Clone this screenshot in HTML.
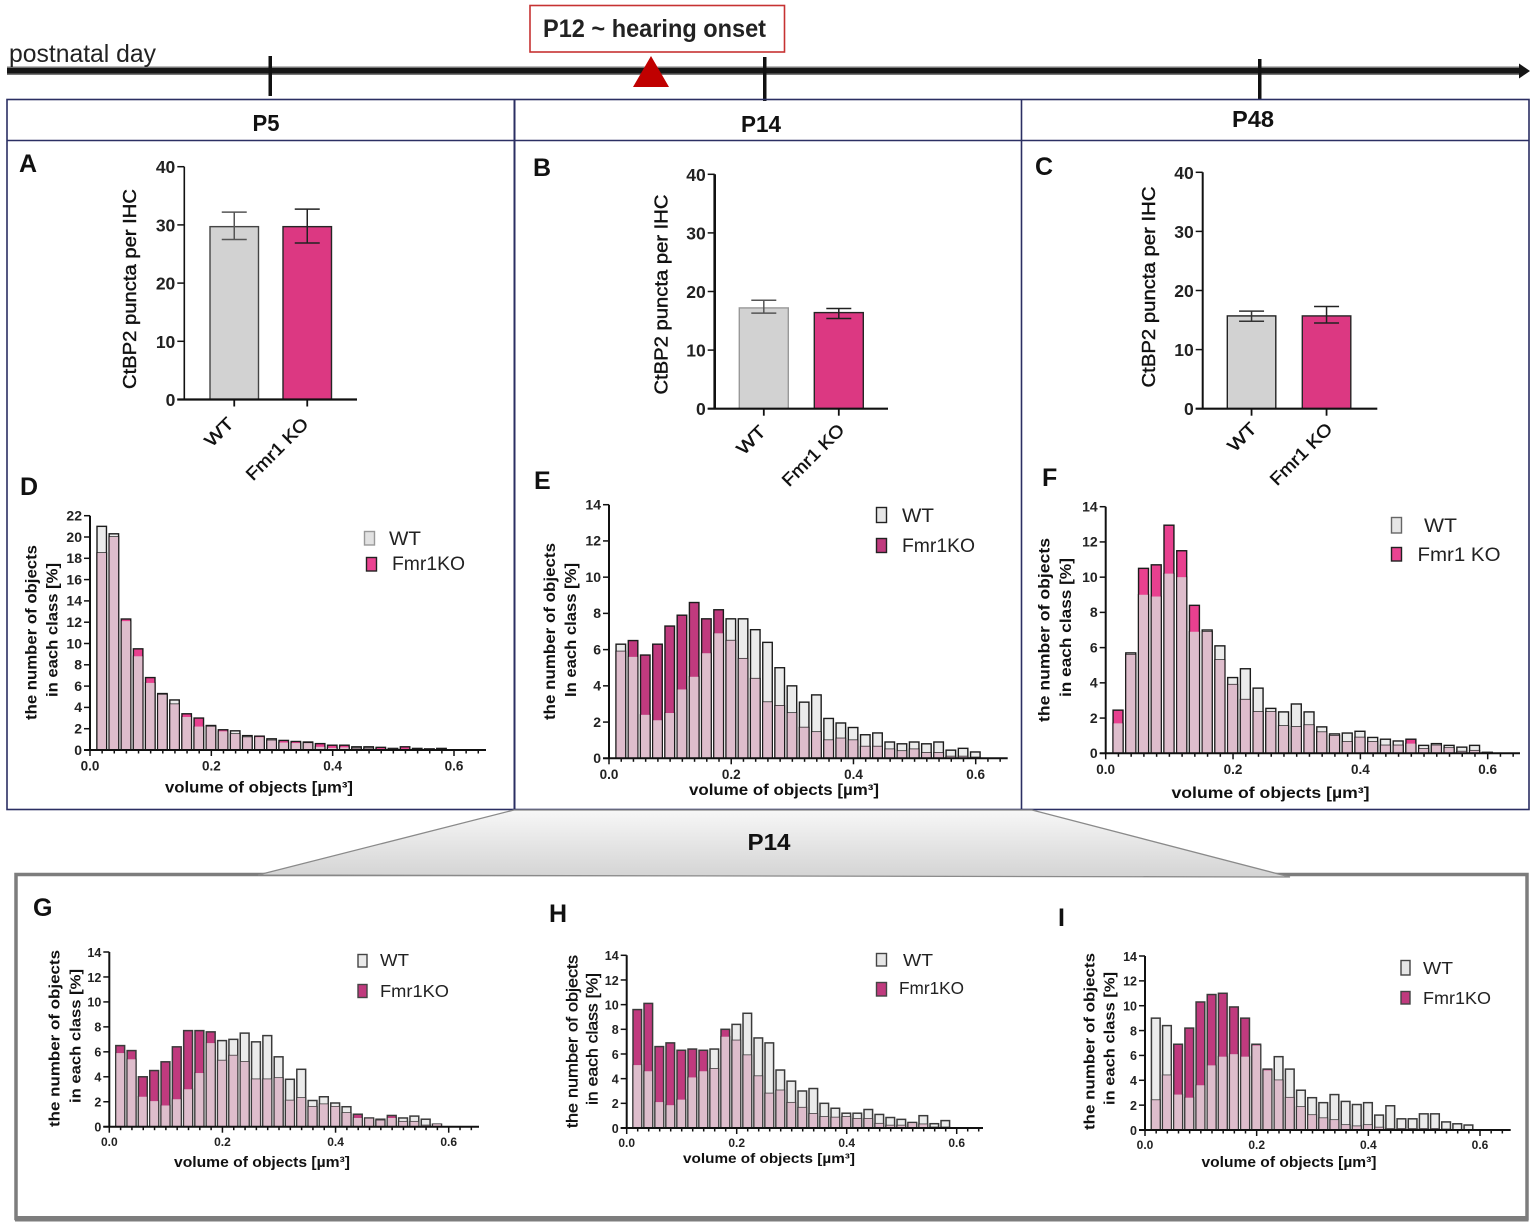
<!DOCTYPE html>
<html lang="en">
<head>
<meta charset="utf-8">
<title>CtBP2 puncta and object volume across postnatal days</title>
<style>
html,body{margin:0;padding:0;background:#fff;}
svg{display:block;font-family:"Liberation Sans",sans-serif;fill:#111;}
.hx{font-weight:700;}
.vt{dominant-baseline:central;text-anchor:middle;}
.let{font-size:25px;font-weight:700;}
.hd{font-size:23px;font-weight:700;text-anchor:middle;}
.lg{font-size:19px;fill:#222;}
.lgs{font-size:17.5px;fill:#222;}
.semi{stroke:#111;stroke-width:0.4px;}
</style>
</head>
<body>
<svg id="figure" width="1535" height="1228" viewBox="0 0 1535 1228" xmlns="http://www.w3.org/2000/svg" style="filter:blur(0.35px)">
<defs>
<linearGradient id="funnelFill" x1="0" y1="0" x2="0" y2="1">
<stop offset="0" stop-color="#f7f7f7"/><stop offset="1" stop-color="#d4d4d4"/>
</linearGradient>
</defs>
<rect width="1535" height="1228" fill="#fff"/>

<g>
<rect x="7" y="66.5" width="1516" height="8.5" fill="#777"/>
<rect x="7" y="68" width="1517" height="5.5" fill="#161616"/>
<polygon points="1519,63.5 1530,71 1519,78.5" fill="#161616"/>
<rect x="268.5" y="56" width="3.5" height="40" fill="#111"/>
<rect x="763" y="57" width="3.5" height="44" fill="#111"/>
<rect x="1258" y="59" width="3.5" height="40" fill="#111"/>
<polygon points="651,56 669,87 633,87" fill="#c00000"/>
<text x="9" y="62" font-size="25" textLength="147" lengthAdjust="spacingAndGlyphs" fill="#222">postnatal day</text>
<rect x="530" y="5.5" width="254.5" height="46.5" fill="#fff" stroke="#c63232" stroke-width="1.6"/>
<text x="543" y="37" font-size="25" font-weight="700" textLength="223" lengthAdjust="spacingAndGlyphs" fill="#222">P12 ~ hearing onset</text>
</g>

<g fill="none" stroke="#2b2f63" stroke-width="1.6">
<rect x="7" y="99.5" width="1522" height="710"/>
<line x1="514.5" y1="99.5" x2="514.5" y2="809.5" stroke-width="2"/>
<line x1="1021.5" y1="99.5" x2="1021.5" y2="809.5"/>
<line x1="7" y1="140.5" x2="1529" y2="140.5"/>
</g>
<text class="hd" x="266" y="131" textLength="27" lengthAdjust="spacingAndGlyphs">P5</text>
<text class="hd" x="761" y="132" textLength="40" lengthAdjust="spacingAndGlyphs">P14</text>
<text class="hd" x="1253" y="127" textLength="42" lengthAdjust="spacingAndGlyphs">P48</text>

<rect x="16" y="874.5" width="1511" height="344" fill="#fff" stroke="#7d7d7d" stroke-width="3.5"/>
<rect x="15" y="1216" width="1513.5" height="5.5" fill="#7d7d7d"/>
<polygon points="514,810 1032,810 1290,877 258,875" fill="url(#funnelFill)" stroke="#8a8a8a" stroke-width="1.3"/>
<text class="hd" x="769" y="850" textLength="43" lengthAdjust="spacingAndGlyphs">P14</text>

<text class="let" x="19" y="172">A</text>
<text class="let" x="533" y="176">B</text>
<text class="let" x="1035" y="175">C</text>
<text class="let" x="20" y="495">D</text>
<text class="let" x="534" y="489">E</text>
<text class="let" x="1042" y="486">F</text>
<text class="let" x="33" y="916">G</text>
<text class="let" x="549" y="922">H</text>
<text class="let" x="1058" y="926">I</text>

<!-- Bar charts -->
<g id="chartA">
<text class="vt semi" transform="translate(130,289) rotate(-90)" font-size="18" textLength="200" lengthAdjust="spacingAndGlyphs">CtBP2 puncta per IHC</text>
</g>
<g id="chartB">
<text class="vt semi" transform="translate(661.5,294.5) rotate(-90)" font-size="18" textLength="200" lengthAdjust="spacingAndGlyphs">CtBP2 puncta per IHC</text>
</g>
<g id="chartC">
<text class="vt semi" transform="translate(1149,287) rotate(-90)" font-size="18" textLength="201" lengthAdjust="spacingAndGlyphs">CtBP2 puncta per IHC</text>
</g>

<!-- Histograms -->
<g id="chartD">
<text class="vt hx" transform="translate(32,632.5) rotate(-90)" font-size="15.5" textLength="175" lengthAdjust="spacingAndGlyphs">the number of objects</text>
<text class="vt hx" transform="translate(53,630) rotate(-90)" font-size="15.5" textLength="134" lengthAdjust="spacingAndGlyphs">in each class [%]</text>
<text class="hx" x="165" y="792.5" font-size="15.5" textLength="188" lengthAdjust="spacingAndGlyphs">volume of objects [µm³]</text>
<rect x="364.5" y="531.5" width="10" height="13.5" fill="#e2e2e2" stroke="#999" stroke-width="1.4"/>
<text class="lg" x="389" y="545" textLength="32" lengthAdjust="spacingAndGlyphs">WT</text>
<rect x="366.5" y="557.5" width="10" height="13.5" fill="#ea4391" stroke="#222" stroke-width="1.4"/>
<text class="lg" x="392" y="570" textLength="73" lengthAdjust="spacingAndGlyphs">Fmr1KO</text>
</g>
<g id="chartE">
<text class="vt hx" transform="translate(550.5,631.5) rotate(-90)" font-size="15.5" textLength="177" lengthAdjust="spacingAndGlyphs">the number of objects</text>
<text class="vt hx" transform="translate(571.5,630) rotate(-90)" font-size="15.5" textLength="134" lengthAdjust="spacingAndGlyphs">In each class [%]</text>
<text class="hx" x="689" y="795" font-size="15.5" textLength="190" lengthAdjust="spacingAndGlyphs">volume of objects [µm³]</text>
<rect x="876.5" y="507.5" width="10" height="15" fill="#e6e6e6" stroke="#222" stroke-width="1.4"/>
<text class="lg" x="902" y="522" textLength="32" lengthAdjust="spacingAndGlyphs">WT</text>
<rect x="876.5" y="538.5" width="10" height="14" fill="#c03a7e" stroke="#222" stroke-width="1.4"/>
<text class="lg" x="902" y="552" textLength="73" lengthAdjust="spacingAndGlyphs">Fmr1KO</text>
</g>
<g id="chartF">
<text class="vt hx" transform="translate(1045,630) rotate(-90)" font-size="15.5" textLength="184" lengthAdjust="spacingAndGlyphs">the number of objects</text>
<text class="vt hx" transform="translate(1066.5,627.5) rotate(-90)" font-size="15.5" textLength="139" lengthAdjust="spacingAndGlyphs">in each class [%]</text>
<text class="hx" x="1171.5" y="798" font-size="15.5" textLength="198" lengthAdjust="spacingAndGlyphs">volume of objects [µm³]</text>
<rect x="1391.5" y="517.5" width="10" height="15.5" fill="#e6e6e6" stroke="#666" stroke-width="1.4"/>
<text class="lg" x="1424" y="532" textLength="33" lengthAdjust="spacingAndGlyphs">WT</text>
<rect x="1391.5" y="547.5" width="10" height="13.5" fill="#ea4391" stroke="#222" stroke-width="1.4"/>
<text class="lg" x="1417.5" y="561" textLength="83" lengthAdjust="spacingAndGlyphs">Fmr1 KO</text>
</g>
<g id="chartG">
<text class="vt hx" transform="translate(55,1038.5) rotate(-90)" font-size="15" textLength="177" lengthAdjust="spacingAndGlyphs">the number of objects</text>
<text class="vt hx" transform="translate(76,1036) rotate(-90)" font-size="15" textLength="134" lengthAdjust="spacingAndGlyphs">in each class [%]</text>
<text class="hx" x="174" y="1167" font-size="14.5" textLength="176" lengthAdjust="spacingAndGlyphs">volume of objects [µm³]</text>
<rect x="358" y="954.5" width="9" height="12.5" fill="#eaeaea" stroke="#444" stroke-width="1.4"/>
<text class="lgs" x="380" y="966" textLength="29" lengthAdjust="spacingAndGlyphs">WT</text>
<rect x="358" y="984.5" width="9" height="13" fill="#c03a7e" stroke="#444" stroke-width="1.4"/>
<text class="lgs" x="380" y="997" textLength="69" lengthAdjust="spacingAndGlyphs">Fmr1KO</text>
</g>
<g id="chartH">
<text class="vt semi" transform="translate(573,1041.5) rotate(-90)" font-size="15.5" textLength="173" lengthAdjust="spacingAndGlyphs">the number of objects</text>
<text class="vt semi" transform="translate(593,1039) rotate(-90)" font-size="15.5" textLength="132" lengthAdjust="spacingAndGlyphs">in each class [%]</text>
<text class="hx" x="683" y="1163" font-size="14" textLength="172" lengthAdjust="spacingAndGlyphs">volume of objects [µm³]</text>
<rect x="876.5" y="953.5" width="10" height="12.5" fill="#e6e6e6" stroke="#444" stroke-width="1.4"/>
<text class="lgs" x="903" y="966" textLength="30" lengthAdjust="spacingAndGlyphs">WT</text>
<rect x="876.5" y="982.5" width="10" height="13.5" fill="#c03a7e" stroke="#444" stroke-width="1.4"/>
<text class="lgs" x="899" y="994" textLength="65" lengthAdjust="spacingAndGlyphs">Fmr1KO</text>
</g>
<g id="chartI">
<text class="vt hx" transform="translate(1090,1041.5) rotate(-90)" font-size="15" textLength="177" lengthAdjust="spacingAndGlyphs">the number of objects</text>
<text class="vt hx" transform="translate(1110,1038.5) rotate(-90)" font-size="15" textLength="133" lengthAdjust="spacingAndGlyphs">in each class [%]</text>
<text class="hx" x="1201.5" y="1167" font-size="14.5" textLength="175" lengthAdjust="spacingAndGlyphs">volume of objects [µm³]</text>
<rect x="1401" y="960.5" width="9" height="14.5" fill="#e6e6e6" stroke="#444" stroke-width="1.4"/>
<text class="lgs" x="1423" y="974" textLength="30" lengthAdjust="spacingAndGlyphs">WT</text>
<rect x="1401" y="991.5" width="9" height="12.5" fill="#c03a7e" stroke="#444" stroke-width="1.4"/>
<text class="lgs" x="1423" y="1004" textLength="68" lengthAdjust="spacingAndGlyphs">Fmr1KO</text>
</g>
</svg>

<script>
// ---------- bar chart data ----------
const barGroups = ['WT', 'Fmr1 KO'];
const barTicks = [0, 10, 20, 30, 40];
const aMeans = [29.7, 29.7];
const aLow = [27.5, 26.9];
const aHigh = [32.2, 32.7];
const bMeans = [17.2, 16.4];
const bLow = [16.3, 15.4];
const bHigh = [18.5, 17.1];
const cMeans = [15.7, 15.7];
const cLow = [14.8, 14.5];
const cHigh = [16.5, 17.3];

// ---------- histogram data ----------
const volumeBins = [0.02,0.04,0.06,0.08,0.10,0.12,0.14,0.16,0.18,0.20,0.22,0.24,0.26,0.28,0.30,0.32,0.34,0.36,0.38,0.40,0.42,0.44,0.46,0.48,0.50,0.52,0.54,0.56,0.58,0.60];
const xTickLabels = [0.0, 0.2, 0.4, 0.6];
const yTicks14 = [0, 2, 4, 6, 8, 10, 12, 14];
const yTicks22 = [0, 2, 4, 6, 8, 10, 12, 14, 16, 18, 20, 22];

const dWt = [21,20.3,12.1,8.8,6.3,5.3,4.7,3.1,2.2,2.3,1.75,1.8,1.35,1.2,1.05,0.7,0.65,0.75,0.3,0.2,0.25,0.3,0.3,0.1,0.1,0.1,0.05,0.1,0.05,0];
const dKo = [18.5,20,12.3,9.5,6.8,5.2,4.3,3.4,3.0,2.2,1.9,1.5,1.2,1.3,0.9,0.9,0.8,0.65,0.6,0.45,0.45,0.15,0.15,0.25,0.15,0.3,0.15,0.1,0.15,0];
const eWt = [6.3,5.6,2.4,2.1,2.5,3.8,4.5,5.8,6.9,7.7,7.7,7.1,6.4,5.0,4.0,3.1,3.5,2.2,1.95,1.7,1.3,1.4,0.9,0.8,0.9,0.8,0.9,0.45,0.55,0.35];
const eKo = [5.9,6.5,5.7,6.3,7.3,7.9,8.6,7.7,8.2,6.5,5.5,4.4,3.1,2.9,2.5,1.7,1.45,1.0,1.1,1.0,0.65,0.65,0.5,0.4,0.5,0.3,0.3,0.1,0.1,0.05];
const fWt = [1.7,5.7,9.0,8.9,10.2,10.0,6.9,7.0,6.1,4.3,4.8,3.7,2.55,2.35,2.8,2.35,1.5,1.1,1.15,1.25,0.9,0.8,0.7,0.55,0.45,0.55,0.45,0.35,0.45,0.05];
const fKo = [2.45,5.6,10.5,10.7,12.95,11.5,8.4,6.9,5.3,3.9,3.05,2.35,2.35,1.55,1.5,1.6,1.2,1.0,0.65,0.9,0.65,0.45,0.45,0.8,0.25,0.45,0.3,0.1,0.15,0.05];
const gWt = [5.9,5.4,2.4,2.05,1.7,2.2,3.0,4.3,6.7,6.9,7.0,7.5,6.8,7.3,5.6,3.8,4.6,2.1,2.4,1.9,1.6,0.7,0.7,0.6,0.7,0.7,0.85,0.6,0.2,0];
const gKo = [6.5,6.1,4.0,4.5,5.2,6.4,7.7,7.7,7.6,5.3,5.7,5.2,3.8,3.8,3.9,2.1,2.3,1.6,1.8,1.6,1.1,1.0,0.65,0.5,0.9,0.4,0.4,0.1,0.2,0];
const hWt = [5.1,4.6,2.1,1.85,2.3,4.1,4.6,6.4,7.4,8.4,9.3,7.3,6.9,4.7,3.8,3.0,3.2,2.0,1.6,1.2,1.2,1.5,1.1,0.85,0.7,0.45,1.0,0.35,0.6,0];
const hKo = [9.6,10.1,6.6,6.9,6.3,6.4,6.3,4.8,8.0,7.1,5.9,4.2,2.8,3.05,2.05,1.65,1.15,0.9,0.85,0.9,0.75,0.75,0.35,0.2,0.2,0.4,0.3,0.05,0.05,0];
const iWt = [9.0,8.4,2.85,2.6,3.6,5.2,5.9,6.1,5.9,6.8,4.8,5.9,4.9,3.2,2.6,2.2,2.85,2.3,2.05,2.2,1.2,1.95,0.9,0.9,1.3,1.3,0.65,0.5,0.4,0];
const iKo = [2.4,4.4,6.9,8.2,10.3,10.9,11.0,9.9,9.0,6.9,4.9,4.0,2.6,1.85,1.2,0.95,0.8,0.4,0.3,0.4,0.2,0.1,0.1,0.1,0.1,0.1,0.05,0,0,0];

// ---------- drawing ----------
const NS = 'http://www.w3.org/2000/svg';
function mk(parent, tag, attrs, text) {
  const node = document.createElementNS(NS, tag);
  for (const key in attrs) node.setAttribute(key, attrs[key]);
  if (text !== undefined) node.textContent = text;
  parent.appendChild(node);
  return node;
}

function drawBarChart(id, means, low, high, f) {
  const g = document.getElementById(id);
  const ys = v => f.y0 - v * (f.y0 - f.yTop) / 40;
  const fills = ['#d2d2d2', '#dc3882'];
  const strokes = [f.wtStroke, '#262626'];
  const errs = [f.wtErr, '#222'];
  barGroups.forEach((label, i) => {
    const l = f.barL[i], w = f.barW, c = l + w / 2;
    let el = mk(g, 'rect', {x: l, y: ys(means[i]), width: w, height: f.y0 - ys(means[i]), fill: fills[i], stroke: strokes[i], 'stroke-width': 1.4});
    
    
    el = mk(g, 'line', {x1: c, x2: c, y1: ys(low[i]), y2: ys(high[i]), stroke: errs[i], 'stroke-width': 1.5});
    
    
    el = mk(g, 'line', {x1: c - 12.5, x2: c + 12.5, y1: ys(high[i]), y2: ys(high[i]), stroke: errs[i], 'stroke-width': 1.5});
    
    
    el = mk(g, 'line', {x1: c - 12.5, x2: c + 12.5, y1: ys(low[i]), y2: ys(low[i]), stroke: errs[i], 'stroke-width': 1.5});
    
    
    el = mk(g, 'line', {x1: c, x2: c, y1: f.y0, y2: f.y0 + 7, stroke: '#111', 'stroke-width': 1.8});
    
    
    el = mk(g, 'text', {'font-size': 17.5, class: 'semi', 'text-anchor': 'middle', 'dominant-baseline': 'central', transform: 'translate(' + f.labelX[i] + ',' + f.labelY[i] + ') rotate(-45)', 'textLength': f.labelLen[i], lengthAdjust: 'spacingAndGlyphs'}, label);
    
    
  });
  barTicks.forEach(t => {
    let el = mk(g, 'line', {x1: f.x - 7, x2: f.x, y1: ys(t), y2: ys(t), stroke: '#111', 'stroke-width': 1.5});
    
    
    el = mk(g, 'text', {x: f.x - 9, y: ys(t) + 6.5, 'font-size': 17.5, 'font-weight': 700, 'text-anchor': 'end', fill: '#222'}, String(t));
    
    
  });
  let el = mk(g, 'line', {x1: f.x, x2: f.x, y1: f.yTop, y2: f.y0, stroke: '#111', 'stroke-width': f.yAxisW});
  
  
  el = mk(g, 'line', {x1: f.x - 7, x2: f.xEnd, y1: f.y0, y2: f.y0, stroke: '#111', 'stroke-width': 2.2});
  
  
}

function drawHistogram(id, wt, ko, yTicks, f) {
  const g = document.getElementById(id);
  const xs = v => f.x0 + v * (f.x06 - f.x0) / 0.6;
  const ys = v => f.y0 - v * (f.y0 - f.yTop) / f.yMax;
  const step = xs(0.02) - xs(0);
  const w = step * 0.78;
  volumeBins.forEach((b, i) => {
    const l = xs(b) - w / 2 - 0.4;
    const common = {x: l, width: w, stroke: f.stroke, 'stroke-width': f.sw};
    let el;
    if (wt[i] > 0) {
      el = mk(g, 'rect', Object.assign({y: ys(wt[i]), height: f.y0 - ys(wt[i]), fill: '#ebebeb'}, common));
      
      
    }
    if (ko[i] > 0) {
      el = mk(g, 'rect', Object.assign({y: ys(ko[i]), height: f.y0 - ys(ko[i]), fill: f.koFill}, common));
      
      
    }
    const shared = Math.min(wt[i], ko[i]);
    if (shared > 0) {
      el = mk(g, 'rect', {x: l + 0.5, y: ys(shared), width: w - 1, height: f.y0 - ys(shared), fill: '#debdcc'});
      
      
    }
  });
  for (let k = 0; k <= 32; k++) {
    const v = k * 0.02;
    const major = k % 10 === 0;
    const el = mk(g, 'line', {x1: xs(v), x2: xs(v), y1: f.y0, y2: f.y0 + (major ? 6 : 3.5), stroke: '#111', 'stroke-width': 1.5});
    
    
  }
  xTickLabels.forEach(v => {
    const el = mk(g, 'text', {x: xs(v), y: f.y0 + f.xLab, 'font-size': f.xSize, 'font-weight': 700, 'text-anchor': 'middle', fill: '#222'}, v.toFixed(1));
    
    
  });
  yTicks.forEach(t => {
    let el = mk(g, 'line', {x1: f.x0 - 6, x2: f.x0, y1: ys(t), y2: ys(t), stroke: '#111', 'stroke-width': 1.5});
    
    
    el = mk(g, 'text', {x: f.x0 - 8, y: ys(t) + 4.8, 'font-size': f.ySize, 'font-weight': 700, 'text-anchor': 'end', fill: '#222'}, String(t));
    
    
  });
  let el = mk(g, 'line', {x1: f.x0, x2: f.x0, y1: f.yTop, y2: f.y0, stroke: '#111', 'stroke-width': 2});
  
  
  el = mk(g, 'line', {x1: f.x0 - 6, x2: f.xEnd, y1: f.y0, y2: f.y0, stroke: '#111', 'stroke-width': 2});
  
  
}

drawBarChart('chartA', aMeans, aLow, aHigh, {x: 184.3, xEnd: 357, y0: 399.5, yTop: 166.7, barL: [210, 283], barW: 48.5, wtStroke: '#444', wtErr: '#555', yAxisW: 1.6, labelX: [219, 277], labelY: [432, 449], labelLen: [33, 80]});
drawBarChart('chartB', bMeans, bLow, bHigh, {x: 714.7, xEnd: 888, y0: 408.7, yTop: 174.3, barL: [739.3, 814.3], barW: 49, wtStroke: '#999', wtErr: '#555', yAxisW: 2.6, labelX: [751, 813], labelY: [440, 455], labelLen: [33, 80]});
drawBarChart('chartC', cMeans, cLow, cHigh, {x: 1202.7, xEnd: 1377.3, y0: 408.7, yTop: 172.3, barL: [1227.3, 1302.3], barW: 48.5, wtStroke: '#222', wtErr: '#333', yAxisW: 2, labelX: [1242, 1301], labelY: [437, 454], labelLen: [33, 80]});

const bright = '#e8408f';
const deep = '#c03a7e';
drawHistogram('chartD', dWt, dKo, yTicks22, {x0: 90, x06: 454, xEnd: 486, y0: 750, yTop: 515.7, yMax: 22, koFill: bright, stroke: '#1c1c1c', sw: 1.4, xLab: 20.5, xSize: 13.5, ySize: 14});
drawHistogram('chartE', eWt, eKo, yTicks14, {x0: 609, x06: 975.7, xEnd: 1007.7, y0: 758.3, yTop: 504.7, yMax: 14, koFill: deep, stroke: '#1c1c1c', sw: 1.4, xLab: 20.5, xSize: 13.5, ySize: 14});
drawHistogram('chartF', fWt, fKo, yTicks14, {x0: 1105.7, x06: 1487.7, xEnd: 1520, y0: 753.3, yTop: 506.7, yMax: 14, koFill: bright, stroke: '#1c1c1c', sw: 1.4, xLab: 20.5, xSize: 13.5, ySize: 14});
drawHistogram('chartG', gWt, gKo, yTicks14, {x0: 109.3, x06: 448.7, xEnd: 479, y0: 1126.7, yTop: 952, yMax: 14, koFill: deep, stroke: '#3a3a3a', sw: 1.5, xLab: 19.5, xSize: 12, ySize: 12.5});
drawHistogram('chartH', hWt, hKo, yTicks14, {x0: 626.7, x06: 956.7, xEnd: 983, y0: 1128, yTop: 955.3, yMax: 14, koFill: deep, stroke: '#3a3a3a', sw: 1.5, xLab: 19, xSize: 12, ySize: 12.5});
drawHistogram('chartI', iWt, iKo, yTicks14, {x0: 1145, x06: 1480, xEnd: 1510.7, y0: 1130, yTop: 956, yMax: 14, koFill: deep, stroke: '#3a3a3a', sw: 1.5, xLab: 19, xSize: 12, ySize: 12.5});
</script>
</body>
</html>
